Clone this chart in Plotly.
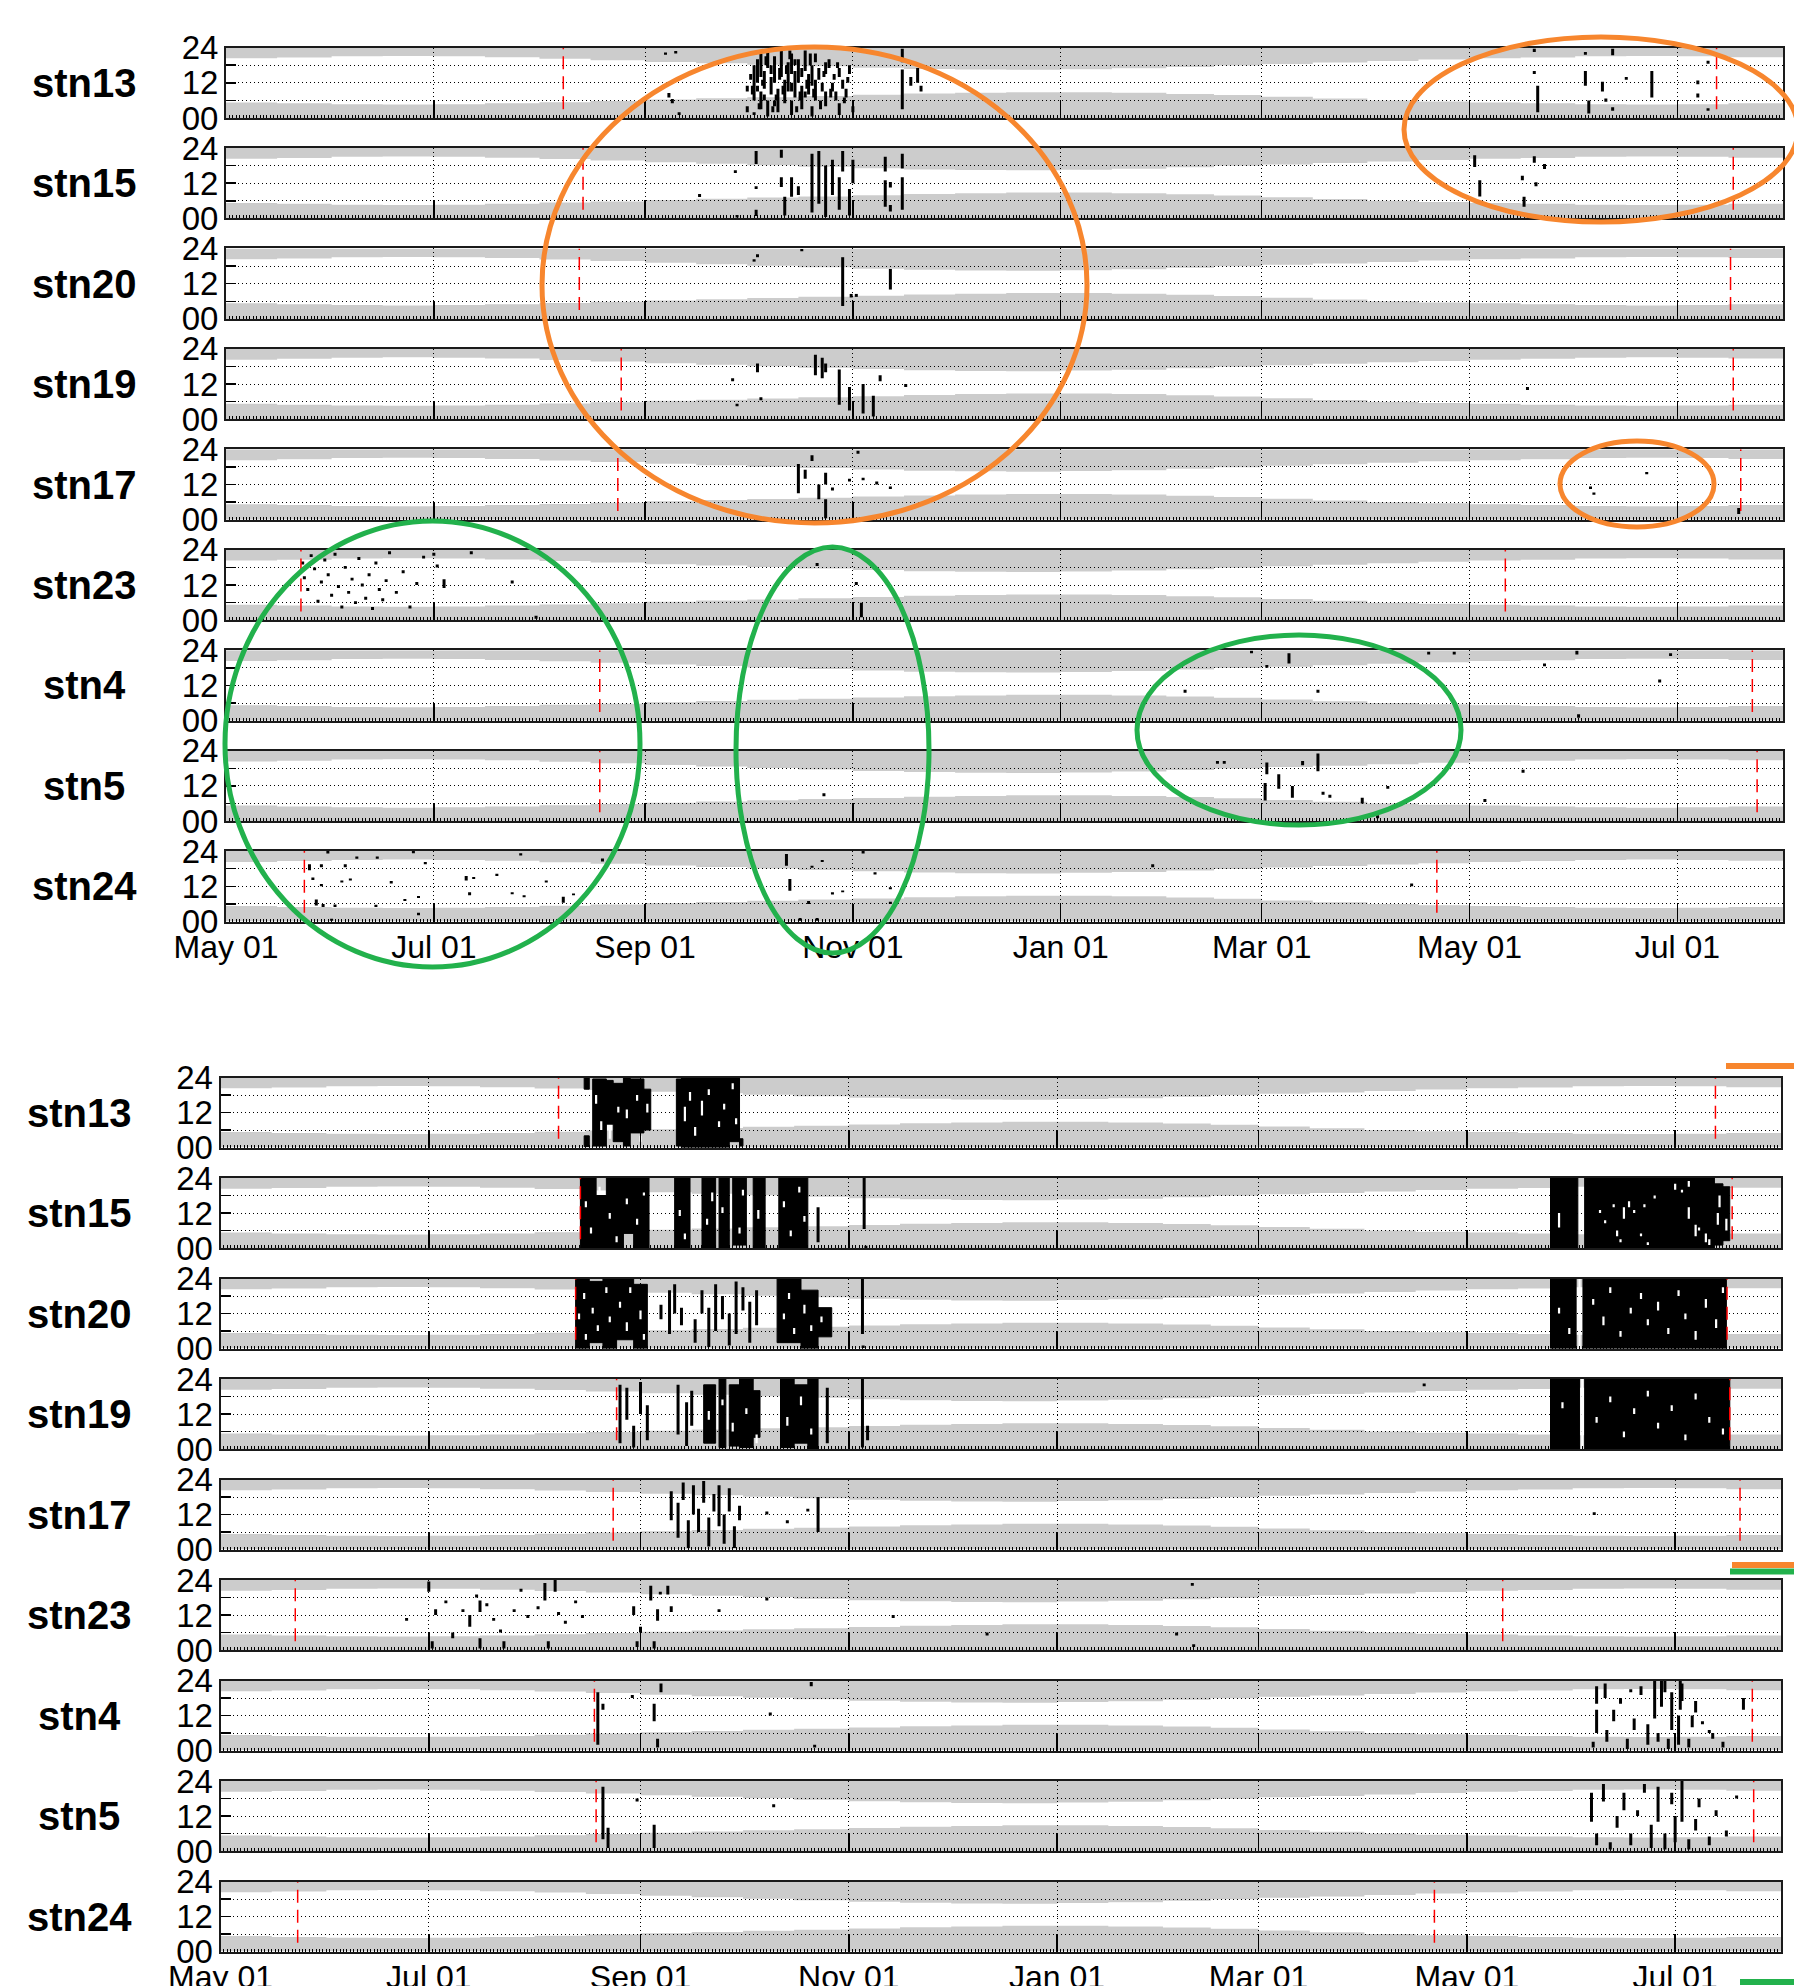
import pandas as pd
import plotly.graph_objects as go

W, H = 1794, 1986
BASE = pd.Timestamp("2013-05-01")
END_DAY = 457

STATIONS = ["stn13", "stn15", "stn20", "stn19", "stn17", "stn23", "stn4", "stn5", "stn24"]

# night (grey) band: days since May 01, dawn hour, dusk hour
NIGHT_DAY = [0, 15, 31, 46, 61, 76, 92, 107, 123, 138, 153, 168, 184, 199, 214, 229,
             245, 260, 276, 290, 304, 319, 335, 350, 365, 380, 396, 411, 426, 441, 457]
DAWN_H = [5.3, 5.0, 4.7, 4.6, 4.7, 5.0, 5.4, 5.8, 6.3, 6.7, 7.1, 7.5, 7.9, 8.3, 8.6, 8.8,
          8.8, 8.6, 8.2, 7.8, 7.2, 6.6, 6.0, 5.6, 5.3, 5.0, 4.7, 4.6, 4.7, 5.0, 5.4]
DUSK_H = [20.3, 20.6, 21.0, 21.1, 21.0, 20.7, 20.2, 19.7, 19.1, 18.6, 18.1, 17.6, 17.1, 16.7, 16.5, 16.4,
          16.6, 16.9, 17.4, 17.9, 18.4, 18.9, 19.4, 19.9, 20.3, 20.6, 21.0, 21.1, 21.0, 20.7, 20.2]

X_TICK_LABELS = ["May 01", "Jul 01", "Sep 01", "Nov 01", "Jan 01", "Mar 01", "May 01", "Jul 01"]
Y_TICK_LABELS = ["00", "", "12", "", "24"]

# deployment (red dashed) days since May 01
TOP_RED = {"stn13": [99, 437.5], "stn15": [104.8, 442.4], "stn20": [103.7, 441.6],
           "stn19": [116, 442.4], "stn17": [115, 444.6], "stn23": [22, 375.5],
           "stn4": [109.7, 448], "stn5": [109.7, 449.4], "stn24": [23, 355.4]}
BOT_RED = {"stn13": [99, 437.8], "stn15": [105.4, 442.7], "stn20": [104, 441.2],
           "stn19": [116, 442], "stn17": [115, 445], "stn23": [21.9, 375.5],
           "stn4": [109.5, 448.6], "stn5": [110, 449], "stn24": [22.6, 355.5]}

# detections (day, hour_from, hour_to) -- upper chart
TOP_MARKS = {
    "stn13": [(129, 21.5, 22.3), (132, 22, 22.8), (130, 7, 8.5), (131, 5, 6.5), (133, 1, 2),
              (153, 2, 4), (153, 9, 11), (155, 6, 18), (155, 1, 2), (156, 12, 20), (157, 3, 9),
              (157, 14, 22), (158, 10, 16), (159, 0.5, 6), (159, 17, 23), (160, 8, 14), (161, 12, 21),
              (162, 2, 10), (163, 14, 23.5), (164, 5, 13), (165, 9, 19), (166, 1, 6), (166, 15, 22),
              (167, 7, 16), (168, 12, 20), (169, 3, 11), (170, 16, 23), (171, 8, 15), (172, 0.5, 4),
              (172, 11, 18), (173, 6, 13), (173, 19, 22), (174, 13, 17), (176, 4, 9), (176, 15, 19),
              (178, 9, 12), (180, 1, 5), (180, 14, 17), (182, 7, 10), (184, 2, 4),
              (154, 13, 15), (156.5, 3, 5), (158.5, 18, 21), (160.5, 2, 4), (161.5, 6, 8),
              (163.5, 8, 11), (165.5, 20, 23), (167.5, 2, 4), (168.5, 6, 9), (170.5, 10, 13),
              (171.5, 18, 22), (174.5, 3, 6), (175, 9, 12), (177, 17, 20), (179, 6, 9),
              (181, 10, 13), (183, 15, 18),
              (154.5, 8, 11), (156, 9, 11), (157.5, 11, 13), (158, 6, 8), (160, 15, 18),
              (161, 4, 6), (162.5, 13, 17), (164.5, 15, 18), (166, 9, 12), (167, 18, 20),
              (169, 14, 17), (170, 7, 9), (172.5, 7, 10), (175.5, 14, 16), (177.5, 7, 10),
              (178.5, 13, 15), (179.5, 17, 19), (181.5, 5, 7), (182.5, 12, 14),
              (198.5, 3, 16.5), (198.5, 19, 23.6), (201, 11, 14), (203, 12, 17), (204, 9, 11),
              (384, 22.5, 23.6), (384, 15, 16), (385, 2, 11), (399, 21.5, 22.5), (399, 11, 16),
              (400, 1.5, 6), (404, 9, 12.3), (405, 5.5, 6.6), (407, 21.4, 23.6), (407, 2.5, 3.7),
              (411, 13, 14), (418.5, 7, 16), (432, 11.5, 12.8), (432, 7, 8.3), (435, 18.5, 19.5),
              (435, 2.5, 3.3)],
    "stn15": [(139, 7.3, 8.3), (149.5, 15.5, 16.4), (150, 0.3, 1.2), (155.6, 18.5, 23), (155.6, 10, 11),
              (155.6, 0.8, 3), (163, 20.7, 23.4), (163, 10.7, 14), (164, 1, 7.4), (166, 7.4, 14),
              (168, 8, 11), (172, 2, 22), (174, 5, 23), (176, 0.5, 18), (178, 8, 20), (180, 3, 14),
              (181, 16, 23), (183, 1, 10), (184, 12, 20), (193.5, 16, 21), (193.5, 4, 13),
              (198.5, 17, 22), (198.5, 3, 14), (195, 10.5, 12.4), (195, 2.4, 4.6),
              (366.5, 17.5, 21.5), (368, 7.5, 13), (380.5, 13, 14.5), (381, 4, 7.4),
              (384, 19, 21.2), (384.5, 11, 12.3), (387, 16.8, 18.5)],
    "stn20": [(155, 19.5, 20.3), (156, 21, 22), (169, 23, 23.8), (181, 4.4, 21), (183.5, 7.3, 8.5),
              (185, 7.5, 8.5), (195, 10, 17)],
    "stn19": [(148.7, 13, 14), (150, 4.5, 5.3), (156, 16, 19), (157, 6.5, 7.5), (173, 15, 22),
              (175, 14, 21), (176, 16, 19), (180, 5, 17), (183, 3, 11), (187, 2, 12), (190, 1, 8),
              (192, 13, 15), (199.5, 11, 12), (382, 10, 11)],
    "stn17": [(168, 9, 19), (170, 14, 17), (172, 20, 22), (174, 7, 12), (176, 12, 16), (178, 10, 11),
              (176, 0.5, 7), (183, 13, 14), (187, 13.5, 14.3), (191, 12, 13), (195, 10.5, 11.3),
              (185.5, 22.5, 23.5), (400.5, 10.5, 11.3), (417, 15.5, 16.3), (401.5, 8.5, 9.3),
              (444, 2, 4)],
    "stn23": [(22.5, 19, 20), (23, 14, 15), (24, 10, 11), (25, 21.5, 22.5), (26, 17, 18), (27, 6, 7),
              (28, 12.5, 13.5), (29, 20, 21), (30, 15, 16), (31, 8, 9), (32, 22, 23), (33, 11, 12),
              (34, 4, 5), (35, 17.5, 18.5), (36, 9, 10), (37, 13.5, 14.5), (38, 5.5, 6.5),
              (39, 20.5, 21.5), (40, 11.5, 12.5), (41, 7, 8), (42, 15, 16), (43, 3.5, 4.5),
              (44, 19, 20), (45, 10, 11), (46, 6.5, 7.5), (47, 13, 14), (48, 22.5, 23.5), (50, 9, 10),
              (52, 16, 17), (54, 4, 5), (56, 12, 13), (58, 21, 22), (61, 22, 23), (64, 11, 14),
              (62, 18, 19), (72, 22.5, 23.5), (84, 12.5, 13.5), (91, 0.5, 1.5),
              (173.5, 18.5, 19.5), (185, 12, 13), (186.5, 1, 6)],
    "stn4": [(281.5, 9.5, 10.5), (301, 23, 23.8), (305.5, 18, 19), (312, 19.5, 23), (320.5, 9.5, 10.5),
             (353, 22.5, 23.5), (360.5, 22.5, 23.5), (387, 18.5, 19.5), (396.5, 22.5, 23.8),
             (397, 1, 2.2), (420.8, 13, 14), (424, 22, 23)],
    "stn5": [(175.5, 8.5, 9.5), (291, 19.5, 20.5), (293, 19.5, 20.5), (305, 7, 13), (305.5, 16, 20),
             (309, 11, 16), (313, 8, 12), (316, 19, 20.5), (320.5, 17, 23), (322, 9, 10), (324, 8, 9),
             (333.5, 6, 8), (341, 11, 12), (338, 1, 2), (369.5, 6.5, 7.5), (380.7, 16.5, 17.5)],
    "stn24": [(29.9, 23.2, 24), (38.4, 21.4, 22.2), (44.4, 21.4, 22.2), (24.5, 17.5, 19.5),
              (28, 18.5, 19.5), (35, 18.5, 19.5), (25.5, 14.2, 15), (28, 12, 12.8), (34, 13.3, 14),
              (36.5, 14, 14.7), (26.5, 5.5, 7.5), (28.5, 5, 6), (32, 5, 5.8), (31, 0.3, 1),
              (44, 5, 5.7), (48.5, 13, 13.8), (52.5, 7, 7.7), (55, 23.3, 24), (56.5, 8, 8.7),
              (58.5, 19.5, 20.3), (56.5, 2.2, 3), (70.5, 14, 15.5), (72.7, 14.5, 15.2), (71.5, 9, 10),
              (79.5, 15.5, 16.3), (84, 9.3, 10), (86.5, 22.5, 23.3), (87.5, 8.3, 9), (94, 13.3, 14),
              (99, 6.4, 8.5), (102, 9, 9.6), (110.5, 20.5, 21.5), (164.5, 19, 23), (165.5, 10.5, 14.5),
              (171, 6, 7), (168.5, 0.3, 1.2), (173.5, 0.3, 1.2), (175, 20.3, 21), (172, 18.3, 19),
              (181, 10, 10.6), (178, 9.2, 10), (190.5, 16, 16.8), (195, 6, 6.8), (195, 11, 11.7),
              (187, 23.2, 24), (272, 18.5, 19.5), (348, 12, 13)],
}

# lower chart: solid detection blocks (day_from, day_to, hour_from, hour_to)
BOT_BLOCKS = {
    "stn13": [(106.5, 108, 20, 24), (106.5, 108, 0.3, 4), (109, 113, 0.5, 23.5), (113, 115, 8, 23),
              (115, 118, 2, 22), (118, 120, 0.5, 24), (120, 124, 5, 23.5), (124, 126, 6, 20),
              (133.5, 135, 0.5, 23.5), (135, 145, 0, 24), (145, 149, 0, 24), (149, 152, 2, 24),
              (152, 153, 0.5, 3)],
    "stn15": [(105.4, 110, 0, 24), (110, 113, 0, 18), (113, 118, 0, 24), (118, 121, 5, 24),
              (121, 125.5, 0, 24), (133, 137.5, 0, 24), (141, 145, 0, 24), (146, 149, 0, 24),
              (150, 154, 1, 24), (156, 159.5, 0, 24), (163.5, 172, 0, 24),
              (389.5, 397.5, 0, 24), (399.5, 437.5, 0, 24), (437.5, 440, 1, 22), (440, 442, 2.5, 21)],
    "stn20": [(104, 108, 0, 24), (108, 112, 2, 23), (112, 116, 0, 24), (116, 121, 3, 24),
              (121, 125, 0, 22), (163, 170, 2, 24), (170, 175, 0, 20), (175, 179, 4, 14),
              (389.5, 397, 0, 24), (399, 441, 0, 24)],
    "stn19": [(141.5, 145, 2, 22), (146, 148, 0.5, 24), (149, 152, 1, 22), (152, 156, 0.5, 24),
              (156, 158, 4, 20), (164, 168, 0.5, 24), (168, 172, 2, 22), (172, 175, 0, 24),
              (389.5, 398, 0, 24), (399.5, 442, 0, 24)],
    "stn17": [], "stn23": [], "stn4": [], "stn5": [], "stn24": [],
}

# lower chart: individual detections (day, hour_from, hour_to)
BOT_MARKS = {
    "stn13": [], "stn15": [(175, 2, 14), (188.5, 6.5, 24), (189, 0, 0.8)],
    "stn20": [(129, 10, 15), (131.5, 5, 20), (133, 12, 22), (135, 8, 14), (139, 2, 10), (141, 12, 20),
              (143, 0.5, 14), (145, 6, 22), (147, 10, 18), (149, 1, 12), (151, 5, 23), (153, 13, 21),
              (155, 2, 16), (157, 8, 20), (188, 5, 24), (188.2, 0.2, 1)],
    "stn19": [(117, 2, 22), (119, 10, 21), (121, 0.5, 8), (123, 12, 23), (125, 3, 15), (134, 5, 22),
              (136.5, 1, 16), (138, 8, 20), (177.7, 2, 21), (188, 0.5, 24), (189.5, 3, 8),
              (352.5, 21.5, 22.5)],
    "stn17": [(132, 10, 20), (134, 4, 16), (135.5, 17, 23), (137, 0.5, 10), (138.5, 12, 22),
              (140, 6, 14), (141.5, 16, 23.5), (143, 1, 11), (144.5, 13, 19), (146, 8, 22),
              (147.5, 2, 12), (149, 13, 21), (150.5, 0.5, 8), (152, 10, 15), (160, 12, 13),
              (166, 9, 10), (172, 13, 14), (175, 6, 18), (402.3, 11.8, 12.8)],
    "stn23": [(54.5, 10, 11), (61, 20, 23.5), (62, 0.5, 3), (63, 12, 14), (66, 16, 17), (68, 4, 6),
              (71, 13, 14), (73, 8, 12), (75, 18, 19), (76, 13, 17), (76, 0.5, 4), (78, 15, 16),
              (80, 10, 11), (82, 6, 7), (83, 0.5, 3), (86, 13, 14), (88, 20, 21), (90, 11, 12),
              (93, 14, 15), (95, 17, 23), (96, 0.5, 3), (98, 20, 24), (99, 12, 13), (101, 9, 10),
              (104, 16, 17), (106, 11, 12), (121, 12, 15), (122, 1, 3), (123, 6, 8), (126, 17, 22),
              (127, 0.5, 3), (128, 10, 14), (128.8, 19, 20), (131, 19, 22), (132, 13, 15),
              (146, 13, 14), (160, 17, 18), (197, 11, 12), (224.5, 5, 6), (284.6, 22, 23),
              (280, 5, 6), (285, 1, 2)],
    "stn4": [(110.5, 2, 20), (112, 14, 16), (120.6, 18, 19), (127, 10, 16), (128, 1, 4), (129, 20, 23),
             (161, 12, 13), (173, 22, 23.5), (174, 1, 2), (402, 1, 3), (403, 6, 14), (403, 16, 22),
             (405.5, 18, 23), (406, 3, 7), (408, 10, 14), (410, 16, 18), (412, 0.5, 4), (413, 20, 21),
             (414, 7, 11), (416, 19, 22), (418, 2, 9), (420, 11, 24), (421, 3, 6), (422, 15, 24),
             (423, 20, 24), (424, 0.5, 4), (425, 7, 20), (427, 2, 12), (427.5, 14, 24), (428, 17, 23),
             (430, 1, 4), (431, 8, 12), (432, 13, 17), (434, 9, 10), (436, 6, 7), (437, 4, 6),
             (440, 1, 3), (446, 14, 18)],
    "stn5": [(112, 4, 22), (113.5, 1, 8), (122, 17, 18), (127, 1, 9), (162, 15, 16),
             (401.5, 10, 20), (403, 2, 6), (405, 17, 23), (407, 0.5, 3), (409, 8, 12), (411, 14, 20),
             (413, 2, 6), (415, 12, 14), (417, 20, 23), (419, 1, 9), (421, 10, 22), (423, 0.5, 6),
             (425, 16, 20), (426, 3, 12), (428, 10, 24), (430, 0.5, 4), (432, 7, 11), (433, 15, 18),
             (436, 2, 5), (438, 12, 14), (441, 5, 7), (444, 18, 19)],
    "stn24": [],
}

# lower chart: gaps inside detection blocks (day, hour_from, hour_to)
BOT_HOLES = {
    "stn13": [(110, 15, 18), (111.5, 6, 9), (114, 3, 6), (116.5, 12, 14), (119, 10, 13), (122, 16, 18),
              (123, 2, 4), (125, 12, 15), (136, 9, 14), (137.5, 16, 19), (139, 4, 7), (141, 11, 16),
              (143, 18, 20), (146, 7, 9), (147.5, 13, 15), (150, 20, 22), (151, 8, 10)],
    "stn15": [(107, 14, 16), (108.5, 5, 7), (111, 19, 21), (114, 10, 12), (116, 2, 4), (119, 15, 17),
              (122, 8, 10), (124, 18, 19), (134.5, 11, 13), (136, 3, 5), (142.5, 8, 10), (144, 16, 19),
              (147, 12, 14), (152, 5, 7), (153, 18, 20), (157.5, 10, 13), (165, 14, 16), (167, 4, 6),
              (169.5, 19, 21), (171, 9, 11), (392, 7, 12), (404, 12, 13), (405.5, 8.5, 9.5),
              (408, 14, 15), (411, 10, 14), (412.5, 14, 16), (414, 12, 13), (409, 4, 6), (410, 2, 3),
              (416, 4, 5), (418, 1, 2), (426, 20, 22), (428, 19, 20), (430, 10, 14), (432, 4, 8),
              (433, 6, 7), (435, 2, 5), (436, 1, 3), (430, 21, 23), (420, 17, 18), (417, 14, 15),
              (438.5, 8, 12), (439, 14, 18), (441, 6, 10)],
    "stn20": [(105, 10, 12), (106.5, 17, 19), (107, 3, 5), (109, 12, 14), (110.5, 6, 8), (113, 19, 21),
              (114, 9, 11), (117, 14, 16), (119, 6, 9), (120, 19, 21), (123, 10, 13), (124, 3, 5),
              (165, 10, 12), (166.5, 17, 19), (168, 5, 7), (171, 12, 15), (173, 6, 8), (176, 9, 11),
              (392, 12, 14), (395, 5, 7), (398, 0, 24), (402, 15, 17), (405, 8, 11), (407, 19, 21),
              (410, 4, 6), (413, 12, 14), (416, 17, 19), (418, 8, 10), (421, 13, 16), (424, 5, 7),
              (427, 18, 20), (429, 10, 12), (432, 3, 6), (435, 14, 17), (438, 7, 10), (440, 19, 21)],
    "stn19": [(143, 10, 13), (147, 15, 17), (150, 6, 9), (154, 12, 14), (157, 2, 5), (166, 8, 11),
              (170, 15, 18), (173, 5, 7), (393, 14, 16), (398.8, 0, 24), (403, 9, 11), (407, 16, 18),
              (411, 4, 6), (414, 12, 14), (418, 18, 20), (421, 7, 9), (425, 13, 15), (429, 3, 5),
              (432, 17, 19), (436, 9, 11), (440, 5, 7)],
    "stn17": [], "stn23": [], "stn4": [], "stn5": [], "stn24": [],
}

# ---------------------------------------------------------------- layout geometry (pixels)
PANELS = [
    dict(left=226, right=1783, top0=47.5, pitch=100.45, h=70.5, label_x=84,
         red=TOP_RED, marks=TOP_MARKS, blocks=None, holes=None),
    dict(left=220.5, right=1781, top0=1077.5, pitch=100.5, h=70, label_x=79,
         red=BOT_RED, marks=BOT_MARKS, blocks=BOT_BLOCKS, holes=BOT_HOLES),
]
FONT = "Liberation Sans, Arial, Helvetica, sans-serif"
GRAY = "rgba(0,0,0,0.2)"


def day(d):
    return BASE + pd.Timedelta(days=d)


def segs(items):
    xs, ys = [], []
    for d, h0, h1 in items:
        xs += [day(d), day(d), None]
        ys += [h0, h1, None]
    return xs, ys


def polys(items):
    xs, ys = [], []
    for d0, d1, h0, h1 in items:
        xs += [day(d0), day(d1), day(d1), day(d0), day(d0), None]
        ys += [h0, h0, h1, h1, h0, None]
    return xs, ys


fig = go.Figure()
layout = {}
annotations = []
night_x = [day(d) for d in NIGHT_DAY]
x_range = [day(0), day(END_DAY)]
tickvals = [day(0) + pd.DateOffset(months=2 * i) for i in range(len(X_TICK_LABELS))]

k = 0
for p, P in enumerate(PANELS):
    for i, stn in enumerate(STATIONS):
        k += 1
        ko = k + 18
        xa, ya = f"x{k}", f"y{k}"
        top = P["top0"] + i * P["pitch"]
        bot = top + P["h"]
        ydom = [1 - bot / H, 1 - top / H]
        xdom = [P["left"] / W, P["right"] / W]
        last = (i == len(STATIONS) - 1)

        # night bands
        fig.add_trace(go.Scatter(x=night_x, y=DAWN_H, xaxis=xa, yaxis=ya, mode="lines",
                                 line=dict(width=0, shape="hv"), fill="tozeroy",
                                 fillcolor=GRAY, hoverinfo="skip", showlegend=False))
        fig.add_trace(go.Scatter(x=night_x, y=[24] * len(night_x), xaxis=xa, yaxis=ya,
                                 mode="lines", line=dict(width=0, shape="hv"),
                                 hoverinfo="skip", showlegend=False))
        fig.add_trace(go.Scatter(x=night_x, y=DUSK_H, xaxis=xa, yaxis=ya, mode="lines",
                                 line=dict(width=0, shape="hv"), fill="tonexty",
                                 fillcolor=GRAY, hoverinfo="skip", showlegend=False))
        # detection blocks
        if P["blocks"] and P["blocks"][stn]:
            bx, by = polys(P["blocks"][stn])
            fig.add_trace(go.Scatter(x=bx, y=by, xaxis=xa, yaxis=ya, mode="lines",
                                     line=dict(width=1, color="black"), fill="toself",
                                     fillcolor="black", hoverinfo="skip", showlegend=False))
        if P["holes"] and P["holes"][stn]:
            hx, hy = segs(P["holes"][stn])
            fig.add_trace(go.Scatter(x=hx, y=hy, xaxis=xa, yaxis=ya, mode="lines",
                                     line=dict(width=2.2, color="white"),
                                     hoverinfo="skip", showlegend=False))
        if P["marks"][stn]:
            mx, my = segs(P["marks"][stn])
            fig.add_trace(go.Scatter(x=mx, y=my, xaxis=xa, yaxis=ya, mode="lines",
                                     line=dict(width=3, color="black"),
                                     hoverinfo="skip", showlegend=False))
        # deployment markers
        rx, ry = segs([(d, 3, 24) for d in P["red"][stn]])
        fig.add_trace(go.Scatter(x=rx, y=ry, xaxis=xa, yaxis=ya, mode="lines",
                                 line=dict(width=1.5, color="#ff0000", dash="13px,7px"),
                                 hoverinfo="skip", showlegend=False))

        xname = "xaxis" if k == 1 else f"xaxis{k}"
        yname = "yaxis" if k == 1 else f"yaxis{k}"
        layout[xname] = dict(
            domain=xdom, anchor=ya, type="date", range=x_range, automargin=False,
            showline=True, mirror=True, linecolor="#1a1a1a", linewidth=2,
            tickmode="array", tickvals=tickvals, ticktext=X_TICK_LABELS,
            ticks="inside", ticklen=18, tickwidth=1.5, tickcolor="black",
            showgrid=True, gridcolor="black", gridwidth=1, griddash="1px,3px",
            showticklabels=last, tickfont=dict(family=FONT, size=32, color="black"),
            ticklabelstandoff=-4,
            minor=dict(ticks="inside", ticklen=3, tickwidth=1, tickcolor="black",
                       dtick=86400000.0, showgrid=False),
            zeroline=False, fixedrange=True,
        )
        layout[f"xaxis{ko}"] = dict(
            domain=xdom, anchor=ya, overlaying=xa, side="top", type="date", range=x_range,
            automargin=False, showline=False, showgrid=False, showticklabels=False,
            ticks="inside", ticklen=3, tickwidth=1, tickcolor="black",
            tickmode="linear", tick0=day(0), dtick=86400000.0, zeroline=False,
        )
        layout[yname] = dict(
            domain=ydom, anchor=xa, range=[0, 24], automargin=False,
            showline=True, mirror=True, linecolor="#1a1a1a", linewidth=2,
            tickmode="array", tickvals=[0, 6, 12, 18, 24], ticktext=Y_TICK_LABELS,
            ticks="inside", ticklen=10, tickwidth=1.5, tickcolor="black",
            showgrid=True, gridcolor="black", gridwidth=1, griddash="1px,3px",
            tickfont=dict(family=FONT, size=33, color="black"), ticklabelstandoff=-1,
            zeroline=False, fixedrange=True,
        )
        annotations.append(dict(
            text=stn, x=P["label_x"] / W, y=1 - (top + P["h"] / 2) / H,
            xref="paper", yref="paper", xanchor="center", yanchor="middle", showarrow=False,
            font=dict(family=FONT, size=40, color="black", weight="bold"),
        ))

# hand-drawn highlight marks (paper pixels)
ORANGE, GREEN = "#f7862e", "#22b14c"
ELLIPSES = [
    (542, 47, 1087, 523, ORANGE), (1404, 37, 1798, 222, ORANGE), (1560, 441, 1714, 527, ORANGE),
    (225, 521, 640, 967, GREEN), (736, 547, 929, 953, GREEN), (1137, 635, 1461, 825, GREEN),
]
BARS = [(1726, 1066, 1800, ORANGE), (1732, 1565, 1800, ORANGE), (1730, 1571.5, 1800, GREEN),
        (1740, 1982, 1800, GREEN)]
shapes = []
for x0, y0, x1, y1, c in ELLIPSES:
    shapes.append(dict(type="circle", xref="paper", yref="paper", x0=x0 / W, x1=x1 / W,
                       y0=1 - y1 / H, y1=1 - y0 / H, line=dict(color=c, width=5)))
for x0, y, x1, c in BARS:
    shapes.append(dict(type="line", xref="paper", yref="paper", x0=x0 / W, x1=x1 / W,
                       y0=1 - y / H, y1=1 - y / H, line=dict(color=c, width=6)))

fig.update_layout(
    width=W, height=H, autosize=False,
    margin=dict(l=0, r=0, t=0, b=0, pad=0, autoexpand=False),
    paper_bgcolor="white", plot_bgcolor="white",
    showlegend=False, annotations=annotations, shapes=shapes,
    font=dict(family=FONT, color="black"),
    **layout,
)
fig.write_html(
    "out.html",
    config={"displayModeBar": False, "staticPlot": True},
    post_script="document.body.style.margin='0px';document.body.style.padding='0px';"
                "document.documentElement.style.overflow='hidden';",
)
